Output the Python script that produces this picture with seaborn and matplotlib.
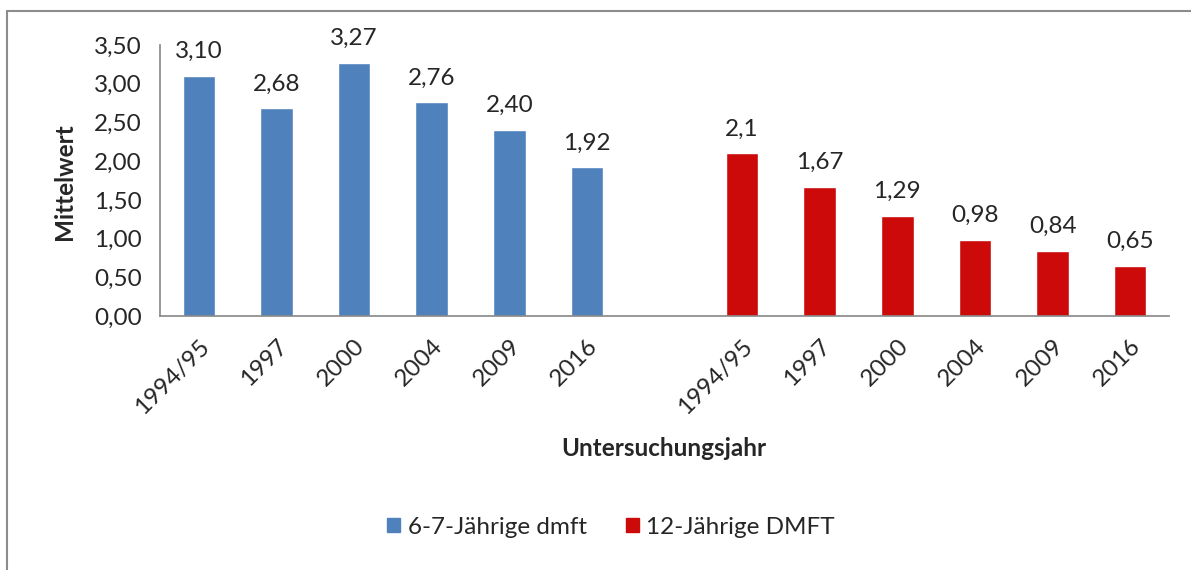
import pandas as pd
import matplotlib
matplotlib.use('Agg')
import matplotlib.pyplot as plt
import seaborn as sns
from matplotlib.ticker import FuncFormatter, FixedLocator
from matplotlib.patches import Rectangle

# Daten
jahre = ['1994/95', '1997', '2000', '2004', '2009', '2016']
werte_67 = [3.10, 2.68, 3.27, 2.76, 2.40, 1.92]
werte_12 = [2.1, 1.67, 1.29, 0.98, 0.84, 0.65]
texte_67 = ['3,10', '2,68', '3,27', '2,76', '2,40', '1,92']
texte_12 = ['2,1', '1,67', '1,29', '0,98', '0,84', '0,65']
gruppen = ['6-7-Jährige dmft', '12-Jährige DMFT']
farben = ['#4F81BD', '#CC0A0A']

# DataFrame mit eindeutigen Kategorien (plus eine leere Lücke)
df = pd.DataFrame({
    'key': [f'a|{j}' for j in jahre] + [f'b|{j}' for j in jahre],
    'wert': werte_67 + werte_12,
    'gruppe': [gruppen[0]] * len(jahre) + [gruppen[1]] * len(jahre),
})
ordnung = [f'a|{j}' for j in jahre] + ['leer'] + [f'b|{j}' for j in jahre]
labels = jahre + [''] + jahre

sns.set_style('white')
plt.rcParams['font.family'] = ['Lato', 'DejaVu Sans']
fs = 17.5

fig = plt.figure(figsize=(11.91, 5.70), dpi=100)
ax = fig.add_axes([160 / 1191, 1 - 316 / 570, (1169 - 160) / 1191, (316 - 45) / 570])

sns.barplot(data=df, x='key', y='wert', hue='gruppe', order=ordnung,
            palette=dict(zip(gruppen, farben)), width=0.42, dodge=False,
            saturation=1, ax=ax)

# Beschriftung über den Balken
for cont, texte in zip(ax.containers, [texte_67, texte_12]):
    ax.bar_label(cont, labels=texte, padding=10, fontsize=fs)

ax.set_ylim(0, 3.5)
ax.set_xlim(-0.5, len(ordnung) - 0.5)
ax.yaxis.set_major_locator(FixedLocator([i * 0.5 for i in range(8)]))
ax.yaxis.set_major_formatter(FuncFormatter(lambda v, p: f'{v:.2f}'.replace('.', ',')))

ax.set_xticks(range(len(ordnung)))
ax.set_xticklabels(labels, rotation=45, ha='right', rotation_mode='anchor', fontsize=fs)
ax.xaxis.set_minor_locator(FixedLocator([i - 0.5 for i in range(len(ordnung) + 1)]))
ax.tick_params(axis='x', which='major', length=0, pad=14)
ax.tick_params(axis='x', which='minor', length=8, color='#868686', width=1.2, direction='out')
ax.tick_params(axis='y', length=7, color='#868686', width=1.2, direction='out', labelsize=fs, pad=6)

for s in ['top', 'right']:
    ax.spines[s].set_visible(False)
for s in ['left', 'bottom']:
    ax.spines[s].set_color('#868686')
    ax.spines[s].set_linewidth(1.2)

ax.set_ylabel('')
ax.set_xlabel('')
fig.text(65 / 1191, 1 - 182 / 570, 'Mittelwert', fontsize=fs, fontweight='bold',
         rotation=90, ha='center', va='center')
fig.text(664 / 1191, 1 - 449 / 570, 'Untersuchungsjahr', fontsize=fs,
         fontweight='bold', ha='center', va='center')

ax.legend_.remove()
handles = [Rectangle((0, 0), 1, 1, color=c) for c in farben]
fig.legend(handles, gruppen, loc='center', bbox_to_anchor=(611 / 1191, 1 - 527 / 570),
           ncol=2, frameon=False, fontsize=fs, handlelength=0.55, handleheight=0.55,
           handletextpad=0.3, columnspacing=1.6)

# Rahmen um die Grafik
fig.patches.append(Rectangle((7 / 1191, -0.1), 1.2, 1 - 11 / 570 + 0.1, transform=fig.transFigure,
                             fill=False, edgecolor='#8C8C8C', linewidth=1.5))

fig.savefig('out.png', dpi=100)
